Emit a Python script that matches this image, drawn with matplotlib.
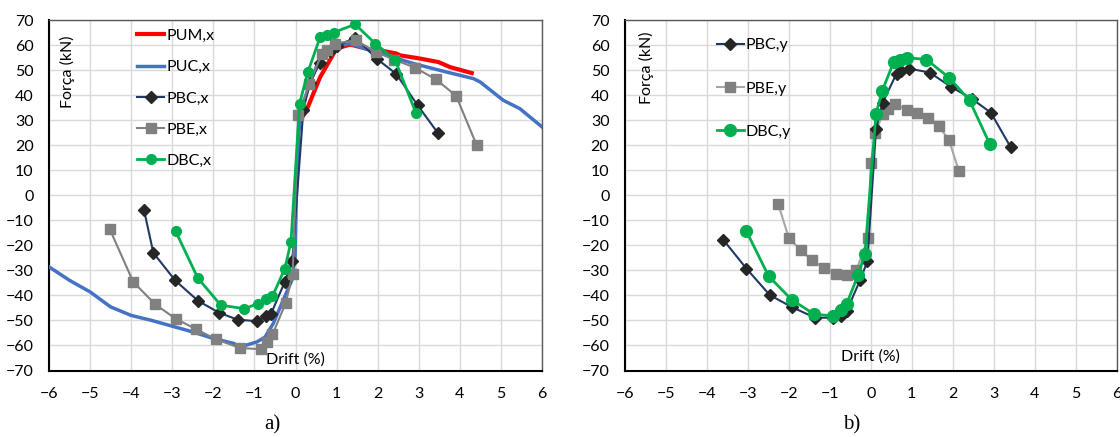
import matplotlib
matplotlib.use("Agg")
import matplotlib.pyplot as plt

# ---------------- data ----------------
# Panel a)
pum_x_drift = [0.12, 0.27, 0.6, 1.0, 1.33, 1.81, 2.06, 2.46, 2.54, 3.03, 3.48, 3.76, 4.29]
pum_x_force = [30, 34, 47.2, 58.6, 60.2, 58.2, 57.9, 56.6, 55.9, 54.6, 53.2, 51.2, 48.8]

puc_x_drift = [-6.0, -5.5, -5.0, -4.5, -4.0, -3.5, -3.0, -2.5, -2.0, -1.5, -1.35, -0.94, -0.74,
               -0.54, -0.3, -0.09, -0.01, 0.02, 0.08, 0.15, 0.35, 0.6, 1.0, 1.33, 1.7, 2.06,
               2.87, 3.68, 4.33, 4.49, 5.06, 5.46, 6.0]
puc_x_force = [-28.6, -34, -38.6, -44.6, -48, -50, -52.3, -54.6, -57.2, -59.2, -60.6, -58.6, -56.6,
               -51.2, -41.9, -34, -24.6, 0, 25, 35, 44.6, 55.2, 59.5, 60.6, 58.5, 56.8,
               52.6, 49.2, 46.6, 45.3, 37.9, 34.6, 27.3]

pbc_x_drift = [-3.69, -3.46, -2.93, -2.37, -1.86, -1.41, -0.93, -0.73, -0.6, -0.26, -0.08,
               0.19, 0.35, 0.6, 0.85, 1.0, 1.45, 1.98, 2.45, 2.97, 3.46]
pbc_x_force = [-5.7, -23, -34, -42.2, -46.9, -49.7, -50.3, -48.2, -47.5, -34.6, -26.4,
               34, 45, 53, 57.5, 59.5, 63, 54.5, 48.5, 36, 25]

pbe_x_drift = [-4.52, -3.95, -3.42, -2.92, -2.42, -1.94, -1.35, -0.84, -0.70, -0.56, -0.24, -0.07,
               0.07, 0.34, 0.64, 0.76, 0.96, 1.47, 1.96, 2.4, 2.9, 3.42, 3.91, 4.41]
pbe_x_force = [-13.6, -34.6, -43.5, -49.3, -53.5, -57.5, -61, -61.5, -58.6, -55.6, -43.1, -31.6,
               32, 44.3, 56.6, 57.9, 60.6, 61.9, 57.2, 54.2, 51, 46.3, 39.7, 20]

dbc_x_drift = [-2.92, -2.38, -1.82, -1.25, -0.91, -0.73, -0.56, -0.26, -0.11,
               0.1, 0.3, 0.6, 0.76, 0.93, 1.45, 1.94, 2.42, 2.93]
dbc_x_force = [-14.3, -33, -43.9, -45.3, -43.3, -41.3, -40.3, -29.3, -18.6,
               36.6, 49.2, 63.2, 63.9, 65, 68.3, 60.6, 54.2, 32.9]

# Panel b)
pbc_y_drift = [-3.6, -3.03, -2.46, -1.93, -1.36, -0.92, -0.72, -0.59, -0.26, -0.08,
               0.13, 0.29, 0.63, 0.75, 0.94, 1.44, 1.96, 2.46, 2.93, 3.41]
pbc_y_force = [-17.7, -29.3, -39.9, -44.6, -48.9, -48.9, -48.2, -46.3, -34, -26.3,
               26.6, 36.9, 48.6, 49.5, 50.6, 49, 43.3, 38.6, 33, 19.3]

pbe_y_drift = [-2.26, -2.0, -1.71, -1.43, -1.14, -0.84, -0.59, -0.35, -0.06,
               0.0, 0.11, 0.3, 0.42, 0.59, 0.89, 1.14, 1.4, 1.66, 1.91, 2.15]
pbe_y_force = [-3.3, -16.9, -22, -26, -29, -31.5, -32, -30, -16.9,
               12.7, 24.9, 32.6, 34.6, 36.6, 33.9, 33, 31, 27.7, 22, 9.7]

dbc_y_drift = [-3.03, -2.49, -1.93, -1.38, -0.92, -0.72, -0.59, -0.31, -0.14,
               0.13, 0.28, 0.56, 0.71, 0.89, 1.36, 1.91, 2.41, 2.9]
dbc_y_force = [-14.4, -32.3, -41.7, -47.5, -48.2, -45.9, -43.5, -32, -23.3,
               32.6, 41.7, 53.2, 53.9, 55, 54.2, 47, 37.9, 20.6]

x_ticks = list(range(-6, 7))
y_ticks = list(range(-70, 71, 10))

# ---------------- style ----------------
plt.rcParams['font.family'] = ['Lato', 'DejaVu Sans']
FS = 11.5
NAVY = '#203864'
DIAM = '#262626'
GRAY = '#808080'
LGRAY = '#A6A6A6'
GREEN = '#00B050'
RED = '#FF0000'
BLUE = '#4472C4'

fig = plt.figure(figsize=(11.2, 4.37), dpi=100)
ax1 = fig.add_axes([49/1120, 1 - 370.5/437, 493/1120, 350.5/437])
ax2 = fig.add_axes([624.7/1120, 1 - 370.5/437, 492/1120, 350.5/437])


def style_axes(ax):
    ax.set_xlim(-6, 6)
    ax.set_ylim(-70, 70)
    ax.set_xticks(x_ticks)
    ax.set_yticks(y_ticks)
    ax.grid(True, color='#D9D9D9', linewidth=1.0)
    ax.set_axisbelow(True)
    ax.tick_params(axis='both', length=0, labelsize=FS, colors='#000000')
    ax.tick_params(axis='y', pad=11)
    ax.tick_params(axis='x', pad=12)
    for s in ['left', 'bottom']:
        ax.spines[s].set_color('#000000')
        ax.spines[s].set_linewidth(1.5)
    for s in ['top', 'right']:
        ax.spines[s].set_color('#595959')
        ax.spines[s].set_linewidth(1.0)


style_axes(ax1)
style_axes(ax2)

ms = 6.5
ax1.plot(pum_x_drift, pum_x_force, color=RED, lw=3.0, label='PUM,x', zorder=3)
ax1.plot(puc_x_drift, puc_x_force, color=BLUE, lw=2.5, label='PUC,x', zorder=3)
ax1.plot(pbc_x_drift, pbc_x_force, color=NAVY, lw=1.5, marker='D', ms=ms - 0.5,
         mfc=DIAM, mec=DIAM, label='PBC,x', zorder=4)
ax1.plot(pbe_x_drift, pbe_x_force, color=GRAY, lw=1.5, marker='s', ms=ms + 0.5,
         mfc=GRAY, mec=GRAY, label='PBE,x', zorder=4)
ax1.plot(dbc_x_drift, dbc_x_force, color=GREEN, lw=2.0, marker='o', ms=ms + 0.5,
         mfc=GREEN, mec=GREEN, label='DBC,x', zorder=5)

ax2.plot(pbc_y_drift, pbc_y_force, color=NAVY, lw=1.5, marker='D', ms=ms - 0.5,
         mfc=DIAM, mec=DIAM, label='PBC,y', zorder=4)
ax2.plot(pbe_y_drift, pbe_y_force, color=LGRAY, lw=1.5, marker='s', ms=ms + 0.5,
         mfc=GRAY, mec=GRAY, label='PBE,y', zorder=3)
ax2.plot(dbc_y_drift, dbc_y_force, color=GREEN, lw=2.0, marker='o', ms=ms + 2,
         mfc=GREEN, mec=GREEN, label='DBC,y', zorder=5)

leg1 = ax1.legend(loc='upper left', bbox_to_anchor=(0.1785, 0.975), frameon=False,
                  fontsize=FS, handlelength=1.7, handletextpad=0.12, labelspacing=1.07,
                  borderpad=0, borderaxespad=0)
leg2 = ax2.legend(loc='upper left', bbox_to_anchor=(0.187, 0.948), frameon=False,
                  fontsize=FS, handlelength=1.7, handletextpad=0.12, labelspacing=1.82,
                  borderpad=0, borderaxespad=0)

for ax, (lx, ly), (dx, dy) in [(ax1, (-5.54, 49.5), (-0.01, -65.5)),
                               (ax2, (-5.46, 50.9), (0.0, -64.6))]:
    ax.text(lx, ly, 'Força (kN)', rotation=90, ha='center', va='center', fontsize=FS, zorder=6)
    ax.text(dx, dy, 'Drift (%)', ha='center', va='center', fontsize=FS, zorder=6)

fig.text(272/1120, 1 - 425/437, 'a)', ha='center', va='center', fontsize=15,
         family=['Liberation Serif', 'DejaVu Serif'])
fig.text(852/1120, 1 - 425/437, 'b)', ha='center', va='center', fontsize=15,
         family=['Liberation Serif', 'DejaVu Serif'])

fig.savefig('out.png', dpi=100)
